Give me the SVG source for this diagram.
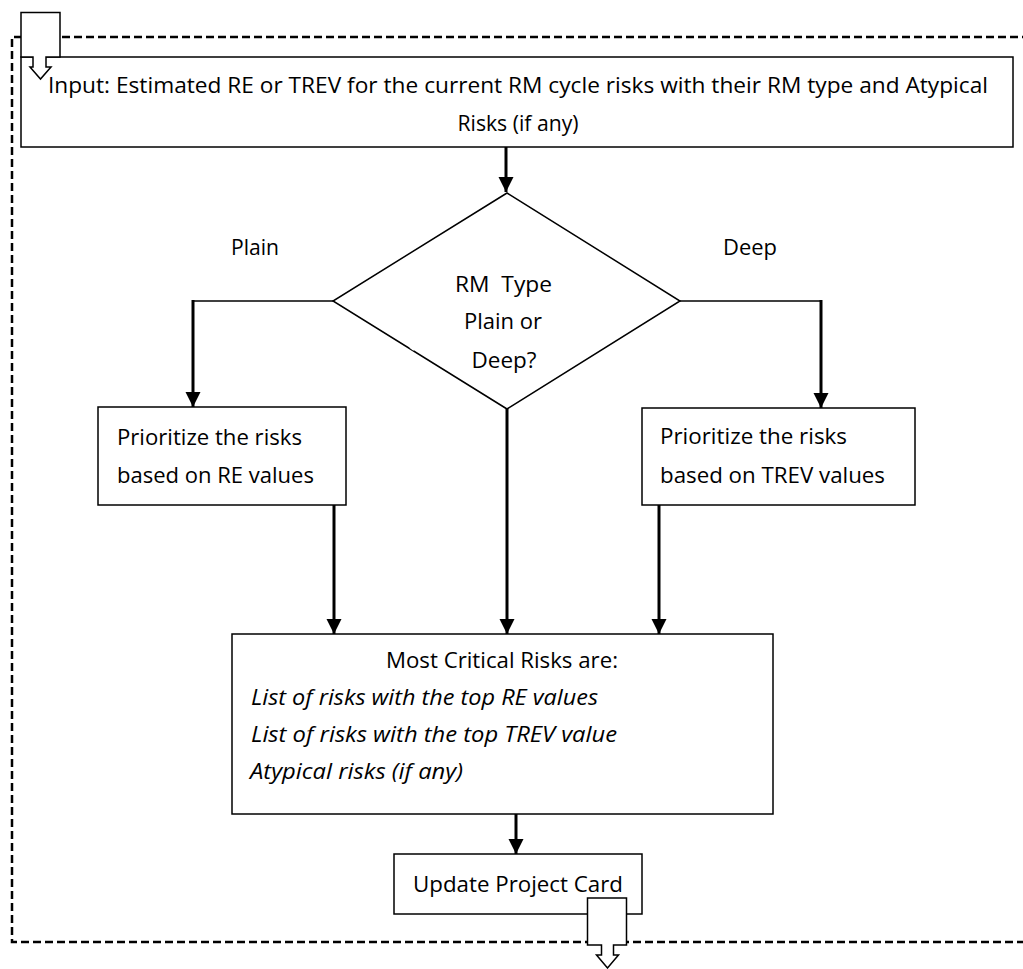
<svg xmlns="http://www.w3.org/2000/svg" width="1023" height="969" viewBox="0 0 1023 969">
  <style>
    .box { fill: #ffffff; stroke: #000000; stroke-width: 1.5; }
    .frame { fill: none; stroke: #000000; stroke-width: 2.5; stroke-dasharray: 8 4; }
    .thin { fill: none; stroke: #000000; stroke-width: 1.5; }
    .flow { fill: none; stroke: #000000; stroke-width: 3; }
    .offpage { fill: #ffffff; stroke: #000000; stroke-width: 1.5; stroke-linejoin: miter; }
    text { font-family: "Open Sans", "Noto Sans", "Liberation Sans", sans-serif; font-size: 22px; fill: #000000; }
    .mid { text-anchor: middle; }
    .it { font-style: italic; }
  </style>
  <defs>
    <marker id="arrow" markerUnits="userSpaceOnUse" markerWidth="16" markerHeight="16" viewBox="0 0 16 16" refX="15" refY="8" orient="auto">
      <path d="M0,0.5 L15,8 L0,15.5 Z" fill="#000000"/>
    </marker>
  </defs>

  <!-- repeat-cycle boundary (runs off the right edge) -->
  <path class="frame" d="M1030,37 H12 V942 H1030"/>

  <g id="input">
    <rect class="box" x="21" y="57" width="992" height="90"/>
    <text x="48" y="93" textLength="940" lengthAdjust="spacingAndGlyphs">Input: Estimated RE or TREV for the current RM cycle risks with their RM type and Atypical</text>
    <text class="mid" x="518" y="131" textLength="121" lengthAdjust="spacingAndGlyphs">Risks (if any)</text>
  </g>

  <g id="decision">
    <polygon class="box" points="507,193 680,301 507,409 333,301"/>
    <!-- small break in the lower-left edge -->
    <line x1="410" y1="347" x2="414" y2="350" stroke="#ffffff" stroke-width="2"/>
    <text class="mid" x="503.5" y="292" textLength="97" lengthAdjust="spacingAndGlyphs">RM&#160; Type</text>
    <text class="mid" x="503" y="329" textLength="78" lengthAdjust="spacingAndGlyphs">Plain or</text>
    <text class="mid" x="504" y="368" textLength="65" lengthAdjust="spacingAndGlyphs">Deep?</text>
  </g>

  <g id="label-plain">
    <text x="231" y="255" textLength="48" lengthAdjust="spacingAndGlyphs">Plain</text>
  </g>
  <g id="label-deep">
    <text x="723" y="255" textLength="54" lengthAdjust="spacingAndGlyphs">Deep</text>
  </g>

  <g id="prioritize-re">
    <rect class="box" x="98" y="407" width="248" height="98"/>
    <text x="117" y="445" textLength="185" lengthAdjust="spacingAndGlyphs">Prioritize the risks</text>
    <text x="117" y="483" textLength="197" lengthAdjust="spacingAndGlyphs">based on RE values</text>
  </g>

  <g id="prioritize-trev">
    <rect class="box" x="642" y="408" width="273" height="97"/>
    <text x="660" y="444" textLength="187" lengthAdjust="spacingAndGlyphs">Prioritize the risks</text>
    <text x="660" y="483" textLength="225" lengthAdjust="spacingAndGlyphs">based on TREV values</text>
  </g>

  <g id="critical-risks">
    <rect class="box" x="232" y="634" width="541" height="180"/>
    <text class="mid" x="502" y="668" textLength="232" lengthAdjust="spacingAndGlyphs">Most Critical Risks are:</text>
    <text class="it" x="251" y="705" textLength="347" lengthAdjust="spacingAndGlyphs">List of risks with the top RE values</text>
    <text class="it" x="251" y="742" textLength="366" lengthAdjust="spacingAndGlyphs">List of risks with the top TREV value</text>
    <text class="it" x="250" y="779" textLength="213" lengthAdjust="spacingAndGlyphs">Atypical risks (if any)</text>
  </g>

  <g id="update-card">
    <rect class="box" x="394" y="854" width="248" height="60"/>
    <text x="413" y="892" textLength="210" lengthAdjust="spacingAndGlyphs">Update Project Card</text>
  </g>

  <g id="connectors">
    <line class="flow" x1="506" y1="147" x2="506" y2="192" marker-end="url(#arrow)"/>
    <polyline class="thin" points="333,301 193,301"/>
    <line class="flow" x1="193" y1="300" x2="193" y2="407" marker-end="url(#arrow)"/>
    <polyline class="thin" points="680,301 821,301"/>
    <line class="flow" x1="821" y1="300" x2="821" y2="408" marker-end="url(#arrow)"/>
    <line class="flow" x1="334" y1="505" x2="334" y2="634" marker-end="url(#arrow)"/>
    <line class="flow" x1="507" y1="409" x2="507" y2="634" marker-end="url(#arrow)"/>
    <line class="flow" x1="659" y1="505" x2="659" y2="634" marker-end="url(#arrow)"/>
    <line class="flow" x1="516" y1="814" x2="516" y2="854" marker-end="url(#arrow)"/>
  </g>

  <g id="offpage-in">
    <path class="offpage" d="M21,12.5 H60 V57 H46 V67 H51 L40.5,79 L30,67 H33 V57 H21 Z"/>
  </g>
  <g id="offpage-out">
    <path class="offpage" d="M587.5,898 H626.5 V945 H613.5 V955 H618.5 L607.5,968 L596.5,955 H601.5 V945 H587.5 Z"/>
  </g>
</svg>
